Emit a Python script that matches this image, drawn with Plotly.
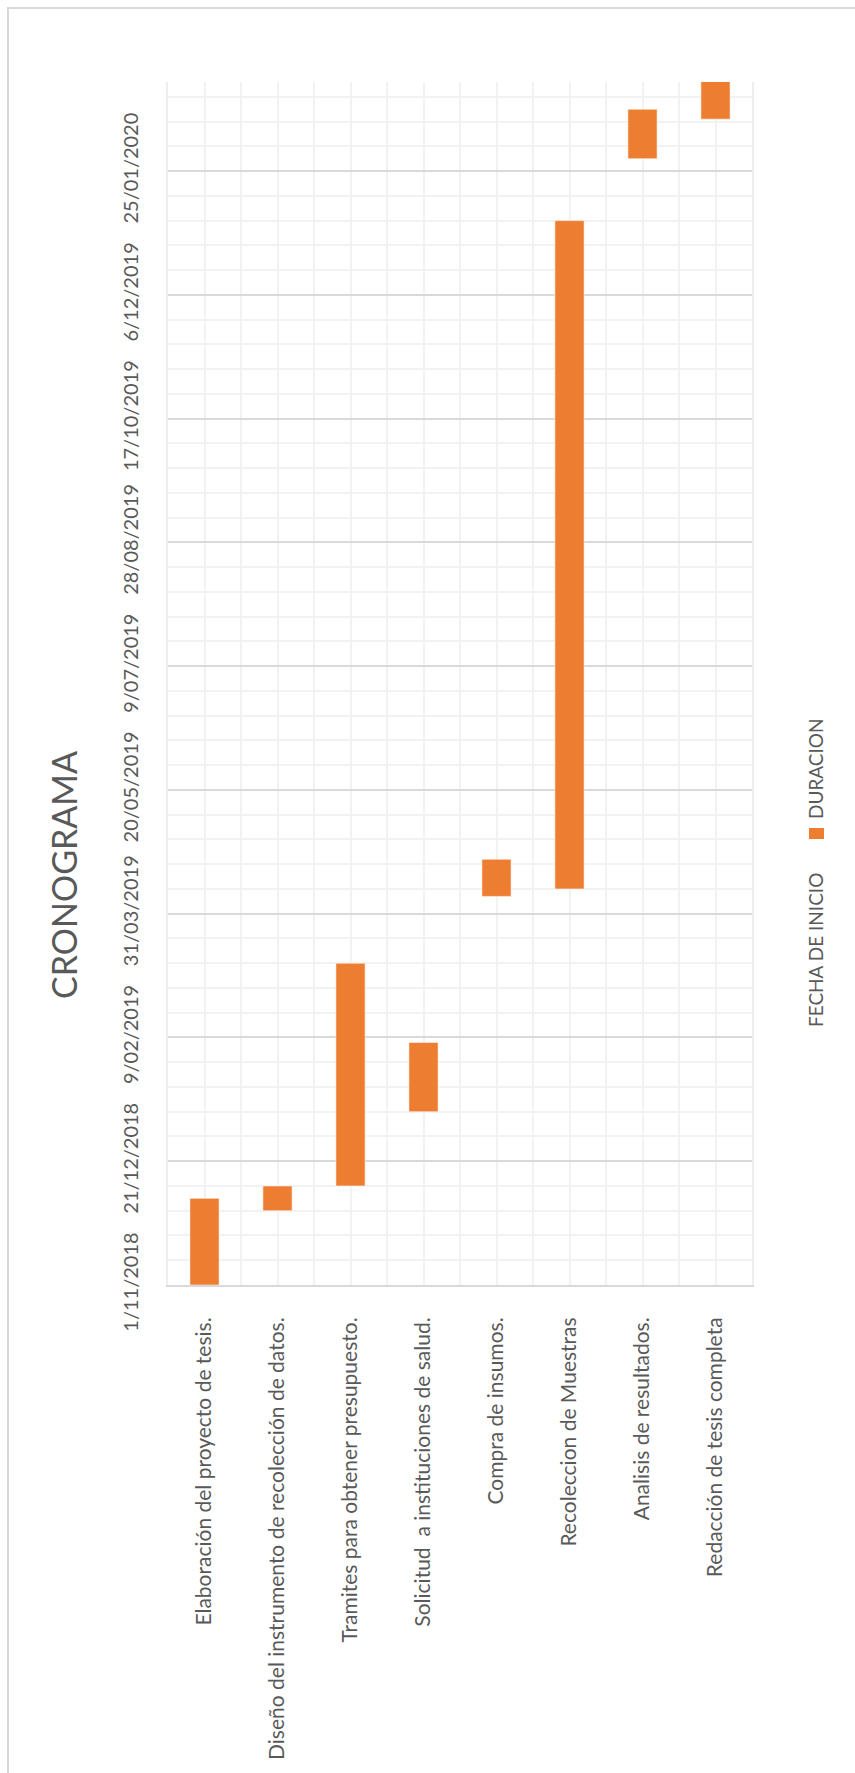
import plotly.graph_objects as go

# ---- data ----
categories = [
    "Elaboración del proyecto de tesis.",
    "Diseño del instrumento de recolección de datos.",
    "Tramites para obtener presupuesto.",
    "Solicitud  a instituciones de salud.",
    "Compra de insumos.",
    "Recoleccion de Muestras",
    "Analisis de resultados.",
    "Redacción de tesis completa",
]
start_dates = ["2018-11-01", "2018-12-01", "2018-12-11", "2019-01-10",
               "2019-04-07", "2019-04-10", "2020-01-30", "2020-02-15"]
duration_days = [35, 10, 90, 28, 15, 270, 20, 30]
series_names = ["FECHA DE INICIO", "DURACION"]
chart_title = "CRONOGRAMA"
axis_min = "2018-11-01"
axis_max = "2020-03-01"

DAY = 86400000
TXT = "#595959"
ORANGE = "#ED7D31"
FONT = "Lato"

W, H = 855, 1773
L, R, T, B = 168, 103, 82, 488
PW, PH = W - L - R, H - T - B


def px_x(p):
    return (p - L) / PW


def px_y(p):
    return (H - B - p) / PH


fig = go.Figure()
fig.add_trace(go.Bar(
    x=list(range(len(categories))),
    y=[d * DAY for d in duration_days],
    base=start_dates,
    width=0.4,
    name=series_names[1],
    marker=dict(color=ORANGE, line=dict(color="rgba(255,255,255,0.55)", width=1)),
    showlegend=False,
))

fig.update_layout(
    width=W, height=H,
    margin=dict(l=L, r=R, t=T, b=B, pad=0),
    paper_bgcolor="white", plot_bgcolor="white",
    font=dict(family=FONT, color=TXT),
    bargap=0.6,
    xaxis=dict(
        range=[-0.5, len(categories) - 0.5],
        tickmode="array",
        tickvals=list(range(len(categories))),
        ticktext=categories,
        tickangle=-90,
        tickfont=dict(size=21, color=TXT, family=FONT),
        ticks="",
        ticklabelstandoff=22,
        showgrid=True, gridcolor="#f2f2f2", gridwidth=2,
        minor=dict(tick0=0.5, dtick=1, showgrid=True, gridcolor="#f2f2f2", gridwidth=2),
        showline=True, linecolor="#d9d9d9", linewidth=2,
        zeroline=False, fixedrange=True,
    ),
    yaxis=dict(
        type="date",
        range=[axis_min, axis_max],
        tick0=axis_min, dtick=50 * DAY,
        tickformat="%-d/%m/%Y",
        tickangle=-90,
        tickfont=dict(size=20, color=TXT, family=FONT),
        ticks="",
        ticklabelstandoff=20,
        showgrid=True, gridcolor="#d9d9d9", gridwidth=2,
        minor=dict(tick0=axis_min, dtick=10 * DAY, showgrid=True,
                   gridcolor="#f2f2f2", gridwidth=2),
        showline=True, linecolor="#eeeeee", linewidth=2, mirror=True,
        zeroline=False, fixedrange=True,
    ),
)

# chart border
fig.add_shape(type="rect", xref="paper", yref="paper",
              x0=px_x(8), x1=px_x(W + 20), y0=px_y(H + 20), y1=px_y(8),
              line=dict(color="#d9d9d9", width=2), fillcolor="rgba(0,0,0,0)",
              layer="below")

# title
fig.add_annotation(text=chart_title, xref="paper", yref="paper",
                   x=px_x(63), y=px_y(875), textangle=-90, showarrow=False,
                   xanchor="center", yanchor="middle",
                   font=dict(size=34, color=TXT, family=FONT))

# legend (rotated, drawn manually)
fig.add_annotation(text=series_names[0], xref="paper", yref="paper",
                   x=px_x(815), y=px_y(950), textangle=-90, showarrow=False,
                   xanchor="center", yanchor="middle",
                   font=dict(size=19, color=TXT, family=FONT))
fig.add_annotation(text=series_names[1], xref="paper", yref="paper",
                   x=px_x(815), y=px_y(769), textangle=-90, showarrow=False,
                   xanchor="center", yanchor="middle",
                   font=dict(size=19, color=TXT, family=FONT))
fig.add_shape(type="rect", xref="paper", yref="paper",
              x0=px_x(809), x1=px_x(824), y0=px_y(839), y1=px_y(828),
              line=dict(width=0), fillcolor=ORANGE)

fig.write_html("out.html")
